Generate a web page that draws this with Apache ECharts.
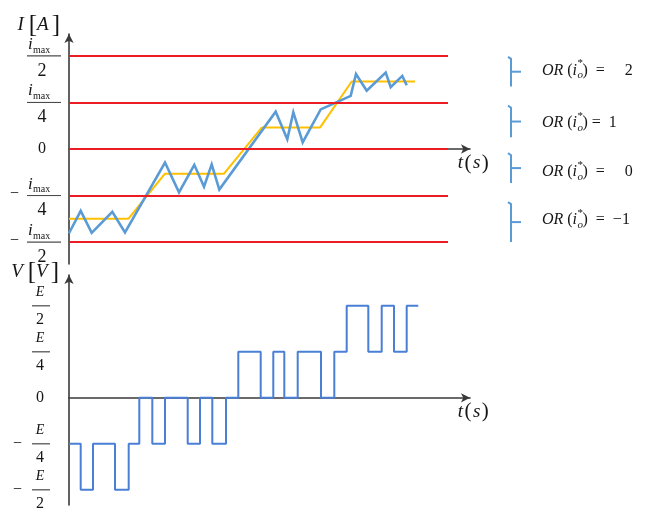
<!DOCTYPE html>
<html><head><meta charset="utf-8">
<script src="https://cdn.jsdelivr.net/npm/echarts@6/dist/echarts.min.js"></script>
<style>html,body{margin:0;padding:0;background:#fff}#c{width:647px;height:513px}</style>
</head><body><div id="c"></div>
<script>
// ---- data (time in arbitrary units from the origin, levels in units of imax/4 and E/4)
const currentT = [0, 11.7, 22.7, 43.3, 56, 96, 110, 125.3, 135, 142.7, 150.3, 206.7, 218.3, 224.3, 233.7, 251.7, 281.7, 287, 297.7, 316.7, 321.7, 333.3, 337.7];
const currentI = [-1.81, -1.33, -1.80, -1.35, -1.79, -0.29, -0.93, -0.34, -0.81, -0.33, -0.87, 0.80, 0.21, 0.79, 0.14, 0.85, 1.14, 1.61, 1.25, 1.64, 1.33, 1.57, 1.37];
const refT = [0, 59.3, 96, 155, 192.7, 251, 282.7, 346];
const refI = [-1.50, -1.50, -0.53, -0.53, 0.46, 0.46, 1.45, 1.45];
const bandLevels = [2, 1, 0, -1, -2];
const bandEndT = 379;
const voltT = [0, 11.7, 24, 46, 59.7, 70.3, 83.3, 96, 118.7, 131, 143.3, 157, 169.3, 191.7, 204.3, 215.3, 228.7, 252, 265.3, 277.7, 299.3, 312.7, 325, 337.7, 349.3];
const voltV = [-1, -2, -1, -2, -1, 0, -1, 0, -1, 0, -1, 0, 1, 0, 1, 0, 1, 0, 1, 2, 1, 2, 1, 2, 2];
const tickLevelsEven = [-2, 0, 2];
const tickLevelsOdd = [-1, 1];
const tickLevels = [-2, -1, 0, 1, 2];
const orLabels = ['2', '1', '0', '−1'];
const orTickY = [1.66, 0.59, -0.41, -1.57];
const orHalf = [0.32, 0.34, 0.32, 0.43];
const orTextY = [1.69, 0.56, -0.49, -1.52];
const orRight = [')  =     2', ') =  1', ')  =     0', ')  =  −1'];
const orT = 442;
const tMax = 401;

const SERIF = 'Liberation Serif';
const INK = '#151515';
const AXIS = '#3a3a3a';
const RED = '#ec1c24';
const YELLOW = '#FFC000';
const BLUE = '#5B9BD5';
const VBLUE = '#4A7FD6';

function topLabel(v) {
  if (v === 0) return '{p|}{z|0}';
  const den = Math.abs(v) === 2 ? '2' : '4';
  return '{p1|}{n|i}{s|max}\n{sp|}{m|' + (v < 0 ? '−' : '') + '}{hr|}\n{p|}{d|' + den + '}';
}
function botLabel(v) {
  if (v === 0) return '{p|}{z|0}';
  const den = Math.abs(v) === 2 ? '2' : '4';
  return '{p|}{e|E}\n{sp|}{m|' + (v < 0 ? '−' : '') + '}{hr|}\n{p|}{d|' + den + '}';
}

const topRich = {
  p1: {width: 18, lineHeight: 20, align: 'left'},
  n: {fontFamily: SERIF, fontStyle: 'italic', fontSize: 17, lineHeight: 8, padding: [7, 0, 0, 0], width: 5, align: 'left', color: INK},
  s: {fontFamily: SERIF, fontSize: 10, lineHeight: 1, padding: [18, 0, 0, 0], width: 28, align: 'left', color: INK},
  sp: {lineHeight: 10, align: 'left'},
  m: {fontFamily: SERIF, fontSize: 16, lineHeight: 1, padding: [0, 0, 3, 0], width: 17, align: 'left', color: INK},
  hr: {width: 34, height: 0, borderColor: '#222', borderWidth: 0.6, align: 'left'},
  p: {width: 13, lineHeight: 20, align: 'center'},
  d: {fontFamily: SERIF, fontSize: 18, lineHeight: 20, width: 38, align: 'center', color: INK},
  z: {fontFamily: SERIF, fontSize: 16, lineHeight: 20, width: 38, align: 'center', color: INK}
};
const botRich = {
  p: {width: 17, lineHeight: 18, align: 'center'},
  e: {fontFamily: SERIF, fontStyle: 'italic', fontSize: 14, lineHeight: 18, width: 20, align: 'center', color: INK},
  sp: {lineHeight: 10, align: 'left'},
  m: {fontFamily: SERIF, fontSize: 16, lineHeight: 1, width: 19, align: 'left', color: INK},
  hr: {width: 18, height: 0, borderColor: '#222', borderWidth: 0.6, align: 'left'},
  d: {fontFamily: SERIF, fontSize: 16, lineHeight: 18, width: 20, align: 'center', color: INK},
  z: {fontFamily: SERIF, fontSize: 16, lineHeight: 18, width: 20, align: 'center', color: INK}
};
const nameRich = {
  a: {fontFamily: SERIF, fontStyle: 'italic', fontSize: 19, color: INK},
  g: {width: 5},
  g2: {width: 3},
  b: {fontFamily: SERIF, fontSize: 25, color: INK}
};
const tRich = {
  i: {fontFamily: SERIF, fontStyle: 'italic', fontSize: 19, color: INK},
  n: {fontFamily: SERIF, fontSize: 21, width: 10, color: INK}
};

function xAxisCfg(idx) {
  return {
    type: 'value', gridIndex: idx, min: 0, max: tMax,
    axisLine: {show: true, onZero: true, onZeroAxisIndex: idx === 0 ? 0 : 1, symbol: ['none', 'arrow'], symbolSize: [7, 9], lineStyle: {color: AXIS, width: 1.6}},
    axisTick: {show: false}, axisLabel: {show: false}, splitLine: {show: false},
    name: '{i|t}{n|(}{i|s}{n|)}', nameLocation: 'end', nameGap: 4, nameMoveOverlap: false,
    nameTextStyle: {rich: tRich, align: 'center', verticalAlign: 'top', lineHeight: 20, padding: [4, 0, 0, 0]}
  };
}

const chart = echarts.init(document.getElementById('c'), null, {renderer: 'canvas'});
chart.setOption({
  animation: false,
  backgroundColor: '#fff',
  grid: [
    {left: 69, top: 34, width: tMax, height: 230, containLabel: false},
    {left: 69, top: 275, width: tMax, height: 230, containLabel: false}
  ],
  xAxis: [xAxisCfg(0), xAxisCfg(1)],
  yAxis: [
    {
      type: 'value', gridIndex: 0, min: -2.47, max: 2.47, position: 'left', offset: 0,
      axisLine: {show: true, onZero: true, symbol: ['none', 'arrow'], symbolSize: [7, 9], lineStyle: {color: AXIS, width: 1.6}},
      axisTick: {show: false}, splitLine: {show: false},
      axisLabel: {customValues: tickLevelsEven, margin: 8, formatter: topLabel, rich: topRich,
        showMinLabel: true, showMaxLabel: true, hideOverlap: false},
      name: '{a|I}{g|}{b|[}{a|A}{g2|}{b|]}', nameLocation: 'end', nameGap: 9, nameMoveOverlap: false,
      nameTextStyle: {rich: nameRich, align: 'right', verticalAlign: 'middle', padding: [0, 9, 0, 0]}
    },
    {
      type: 'value', gridIndex: 1, min: -2.33, max: 2.67, position: 'left', offset: 0,
      axisLine: {show: true, symbol: ['none', 'arrow'], symbolSize: [7, 9], lineStyle: {color: AXIS, width: 1.6}},
      axisTick: {show: false}, splitLine: {show: false},
      axisLabel: {customValues: tickLevels, margin: 19, formatter: botLabel, rich: botRich,
        showMinLabel: true, showMaxLabel: true, hideOverlap: false},
      name: '{a|V}{g|}{b|[}{a|V}{g2|}{b|]}', nameLocation: 'end', nameGap: 3, nameMoveOverlap: false,
      nameTextStyle: {rich: nameRich, align: 'right', verticalAlign: 'middle', padding: [0, 10, 0, 0]}
    },
    {
      type: 'value', gridIndex: 0, min: -2.47, max: 2.47, position: 'left', offset: 0,
      axisLine: {show: false}, axisTick: {show: false}, splitLine: {show: false},
      axisLabel: {customValues: tickLevelsOdd, margin: 8, formatter: topLabel, rich: topRich,
        showMinLabel: true, showMaxLabel: true, hideOverlap: false}
    }
  ],
  series: [
    {
      type: 'line', xAxisIndex: 0, yAxisIndex: 0, data: [], z: 1, silent: true,
      markLine: {
        symbol: 'none', silent: true, animation: false,
        label: {show: false},
        lineStyle: {color: RED, width: 2, type: 'solid'},
        emphasis: {disabled: true},
        data: bandLevels.map(l => [{coord: [0, l]}, {coord: [bandEndT, l]}])
      }
    },
    {
      type: 'line', xAxisIndex: 0, yAxisIndex: 0, z: 2, symbol: 'none', silent: true,
      lineStyle: {color: YELLOW, width: 2},
      data: refT.map((t, i) => [t, refI[i]])
    },
    {
      type: 'line', xAxisIndex: 0, yAxisIndex: 0, z: 3, symbol: 'none', silent: true,
      lineStyle: {color: BLUE, width: 2.6, join: 'miter'},
      data: currentT.map((t, i) => [t, currentI[i]])
    },
    {
      type: 'line', xAxisIndex: 1, yAxisIndex: 1, z: 3, symbol: 'none', silent: true, step: 'end',
      lineStyle: {color: VBLUE, width: 2},
      data: voltT.map((t, i) => [t, voltV[i]])
    },
    {
      type: 'custom', xAxisIndex: 0, yAxisIndex: 0, z: 4, silent: true, clip: false,
      data: orLabels.map((l, i) => [orT, orTickY[i], orHalf[i], orTextY[i]]),
      renderItem: function (params, api) {
        const i = params.dataIndex;
        const x = api.value(0), y = api.value(1), h = api.value(2), ty = api.value(3);
        const c = api.coord([x, y]);
        const t = api.coord([x, y + h]);
        const b = api.coord([x, y - h]);
        const tc = api.coord([x, ty]);
        const stroke = {stroke: BLUE, lineWidth: 2, fill: null};
        const X = c[0] + 66;
        const base = {fontFamily: SERIF, fontSize: 16};
        return {
          type: 'group',
          children: [
            {type: 'polyline', shape: {points: [[t[0] - 3, t[1]], [t[0], t[1] + 2], [b[0], b[1]]]}, style: stroke},
            {type: 'line', shape: {x1: c[0], y1: c[1], x2: c[0] + 10, y2: c[1]}, style: stroke},
            {type: 'text', x: X, y: tc[1], style: {
              text: '{it|OR} ({it|i}', font: '16px "' + SERIF + '"', fill: INK,
              align: 'right', textAlign: 'right', verticalAlign: 'middle', textVerticalAlign: 'middle',
              rich: {it: Object.assign({fontStyle: 'italic'}, base)}
            }},
            {type: 'text', x: X + 0.5, y: tc[1] - 7, style: {
              text: '*', font: '11px "' + SERIF + '"', fill: INK,
              align: 'left', textAlign: 'left', verticalAlign: 'middle', textVerticalAlign: 'middle'
            }},
            {type: 'text', x: X + 0.5, y: tc[1] + 5, style: {
              text: 'o', font: 'italic 11px "' + SERIF + '"', fill: INK,
              align: 'left', textAlign: 'left', verticalAlign: 'middle', textVerticalAlign: 'middle'
            }},
            {type: 'text', x: X + 5.5, y: tc[1], style: {
              text: orRight[i], font: '16px "' + SERIF + '"', fill: INK,
              align: 'left', textAlign: 'left', verticalAlign: 'middle', textVerticalAlign: 'middle'
            }}
          ]
        };
      }
    }
  ]
});
</script>
</body></html>
